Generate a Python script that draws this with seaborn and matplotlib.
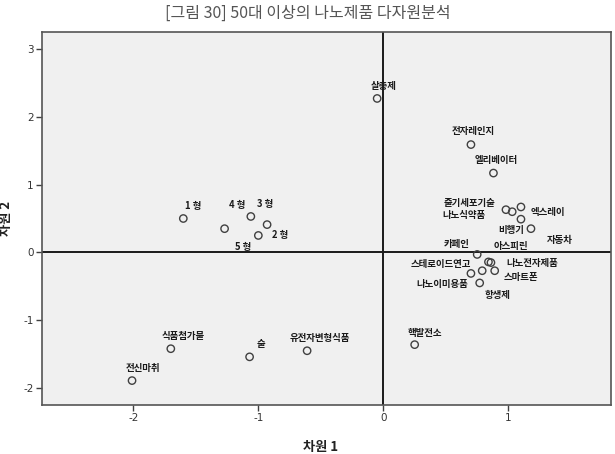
import matplotlib
matplotlib.use("Agg")
import matplotlib.pyplot as plt
import seaborn as sns
import pandas as pd

# ---- data ----
labels = ["살충제", "전자레인지", "엘리베이터", "줄기세포기술", "나노식약품", "엑스레이",
          "비행기", "자동차", "카페인", "아스피린", "스테로이드연고", "나노전자제품",
          "스마트폰", "항생제", "나노이미용품", "핵발전소",
          "1 형", "4 형", "3 형", "2 형", "5 형",
          "식품첨가물", "전신마취", "술", "유전자변형식품"]
dim1 = [-0.05, 0.70, 0.88, 0.98, 1.03, 1.10,
        1.18, 1.10, 0.75, 0.84, 0.70, 0.86,
        0.89, 0.79, 0.77, 0.25,
        -1.60, -1.06, -0.93, -1.00, -1.27,
        -1.70, -2.01, -1.07, -0.61]
dim2 = [2.27, 1.59, 1.17, 0.63, 0.60, 0.67,
        0.35, 0.49, -0.03, -0.14, -0.31, -0.15,
        -0.27, -0.27, -0.45, -1.36,
        0.50, 0.53, 0.41, 0.25, 0.35,
        -1.42, -1.89, -1.54, -1.45]
xticks = [-2, -1, 0, 1]
yticks = [-2, -1, 0, 1, 2, 3]

# label offsets (style, in pixels)
offsets = [(7, 12), (2, 14), (3, 13), (-36, 7), (-48, -3), (27, -5),
           (-20, -1), (39, -21), (-21, 10), (22, 16), (-30, 9), (41, 0),
           (26, -6), (15, -24), (-37, -1), (10, 12),
           (10, 13), (-14, 11), (-2, 21), (22, 0), (19, -18),
           (12, 13), (11, 13), (11, 13), (13, 13)]

df = pd.DataFrame({"label": labels, "x": dim1, "y": dim2})

sns.set_theme(style="white")
plt.rcParams["font.family"] = ["Noto Sans CJK KR", "DejaVu Sans"]

fig = plt.figure(figsize=(6.15, 4.54), dpi=100)
ax = fig.add_axes([42/615, 1-405/454, (611-42)/615, (405-32)/454])
ax.set_facecolor("#f0f0f0")

sns.scatterplot(data=df, x="x", y="y", ax=ax, marker="o", s=28,
                facecolor="none", edgecolor="#404040", linewidth=1.0, zorder=3)

ax.axvline(0, color="#1a1a1a", lw=1.4, zorder=2)
ax.axhline(0, color="#1a1a1a", lw=1.4, zorder=2)

for lab, x, y, (dx, dy) in zip(labels, dim1, dim2, offsets):
    ax.annotate(lab, (x, y), xytext=(dx, dy), textcoords="offset pixels",
                ha="center", va="center", fontsize=6.8, fontweight="bold",
                color="#1a1a1a", zorder=4)

ax.set_xlim(-2.73, 1.82)
ax.set_ylim(-2.25, 3.25)
ax.set_xticks(xticks)
ax.set_yticks(yticks)
ax.set_xticklabels([str(t) for t in xticks], family="DejaVu Sans")
ax.set_yticklabels([str(t) for t in yticks], family="DejaVu Sans")
ax.tick_params(axis="both", which="both", direction="out", length=4, width=1,
               color="#404040", labelsize=7.5, labelcolor="#333333",
               bottom=True, left=True, pad=2)
for sp in ax.spines.values():
    sp.set_color("#555555")
    sp.set_linewidth(1.2)

ax.set_xlabel("차원 1", fontsize=9.5, fontweight="bold", color="#222222")
ax.set_ylabel("차원 2", fontsize=9.5, fontweight="bold", color="#222222")
ax.xaxis.set_label_coords((321-42)/569, (405-440)/373)
ax.yaxis.set_label_coords((13-42)/569, 0.5)

fig.text(0.5, 1-13/454, "[그림 30] 50대 이상의 나노제품 다자원분석",
         ha="center", va="center", fontsize=11.5, color="#555555")

fig.savefig("out.png", dpi=100, facecolor="white")
